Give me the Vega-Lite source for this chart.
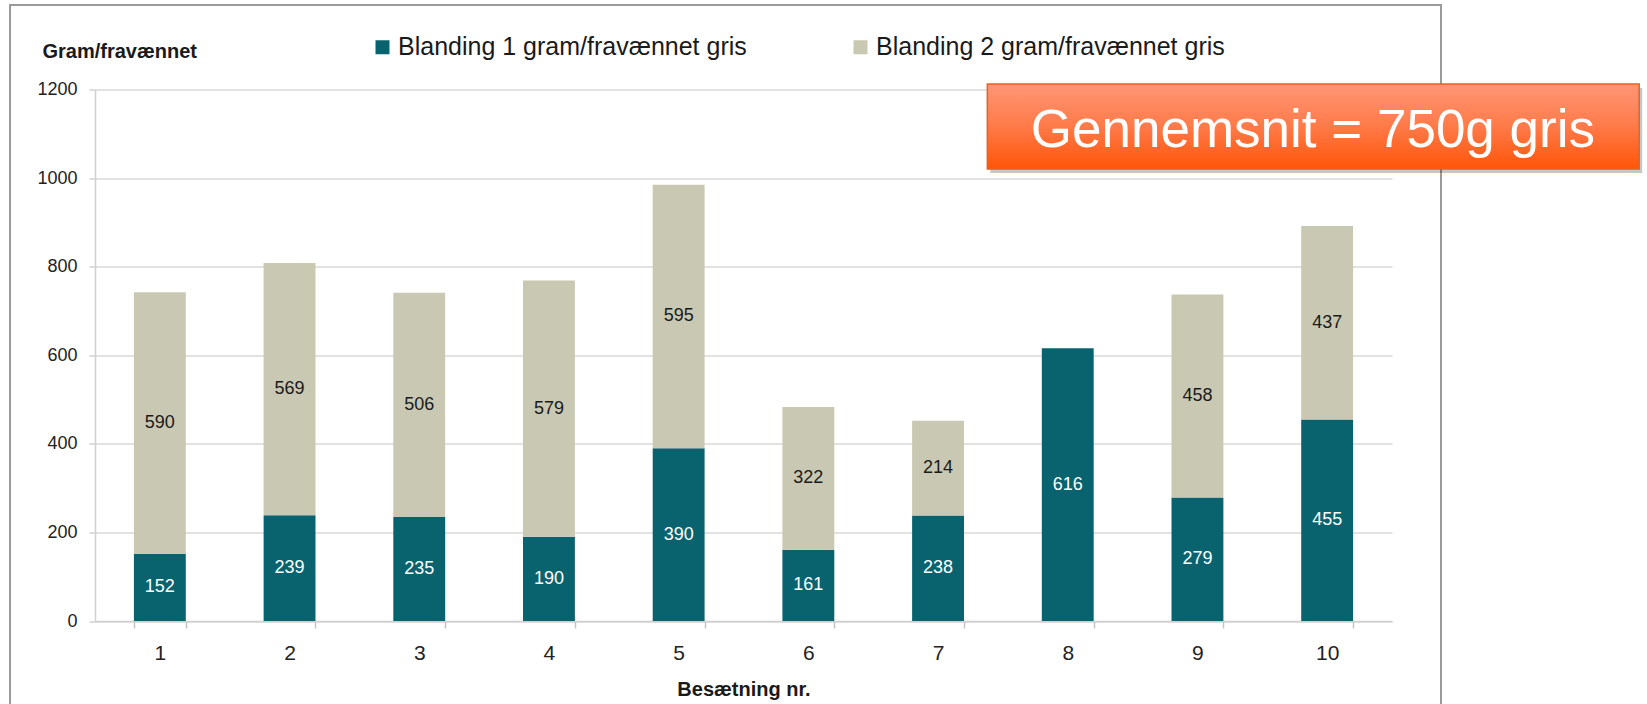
{
  "$schema": "https://vega.github.io/schema/vega-lite/v6.json",
  "width": 1297,
  "height": 531.5,
  "autosize": {"type": "none"},
  "padding": {"left": 95, "top": 89.5, "right": 255, "bottom": 83},
  "background": "white",
  "config": {"view": {"stroke": null}, "font": "Liberation Sans"},
  "data": {
    "values": [
      {"herd": 1, "series": "Blanding 1 gram/fravænnet gris", "value": 152},
      {"herd": 2, "series": "Blanding 1 gram/fravænnet gris", "value": 239},
      {"herd": 3, "series": "Blanding 1 gram/fravænnet gris", "value": 235},
      {"herd": 4, "series": "Blanding 1 gram/fravænnet gris", "value": 190},
      {"herd": 5, "series": "Blanding 1 gram/fravænnet gris", "value": 390},
      {"herd": 6, "series": "Blanding 1 gram/fravænnet gris", "value": 161},
      {"herd": 7, "series": "Blanding 1 gram/fravænnet gris", "value": 238},
      {"herd": 8, "series": "Blanding 1 gram/fravænnet gris", "value": 616},
      {"herd": 9, "series": "Blanding 1 gram/fravænnet gris", "value": 279},
      {"herd": 10, "series": "Blanding 1 gram/fravænnet gris", "value": 455},
      {"herd": 1, "series": "Blanding 2 gram/fravænnet gris", "value": 590},
      {"herd": 2, "series": "Blanding 2 gram/fravænnet gris", "value": 569},
      {"herd": 3, "series": "Blanding 2 gram/fravænnet gris", "value": 506},
      {"herd": 4, "series": "Blanding 2 gram/fravænnet gris", "value": 579},
      {"herd": 5, "series": "Blanding 2 gram/fravænnet gris", "value": 595},
      {"herd": 6, "series": "Blanding 2 gram/fravænnet gris", "value": 322},
      {"herd": 7, "series": "Blanding 2 gram/fravænnet gris", "value": 214},
      {"herd": 9, "series": "Blanding 2 gram/fravænnet gris", "value": 458},
      {"herd": 10, "series": "Blanding 2 gram/fravænnet gris", "value": 437}
    ]
  },
  "layer": [
    {
      "layer": [
        {
          "mark": {"type": "bar"},
          "encoding": {
            "x": {
              "field": "herd",
              "type": "ordinal",
              "scale": {"paddingInner": 0.6, "paddingOuter": 0.3},
              "axis": {
                "title": "Besætning nr.",
                "labelAngle": 0,
                "labelFontSize": 21,
                "labelColor": "#222222",
                "labelBaseline": "alphabetic",
                "labelPadding": 31,
                "tickBand": "extent",
                "tickSize": 7,
                "tickColor": "#c4c4c4",
                "tickWidth": 1.5,
                "domainColor": "#d0d0d0",
                "domainWidth": 1.5,
                "grid": false,
                "titleFontSize": 20,
                "titleFontWeight": "bold",
                "titleColor": "#1a1a1a",
                "titleBaseline": "alphabetic",
                "titleY": 74
              }
            },
            "y": {
              "field": "value",
              "type": "quantitative",
              "stack": "zero",
              "scale": {"domain": [0, 1200], "nice": false},
              "axis": {
                "title": "Gram/fravænnet",
                "values": [0, 200, 400, 600, 800, 1000, 1200],
                "format": "d",
                "labelFontSize": 18,
                "labelColor": "#222222",
                "labelPadding": 12,
                "tickSize": 6,
                "tickColor": "#d0d0d0",
                "tickWidth": 1.5,
                "domainColor": "#d0d0d0",
                "domainWidth": 1.5,
                "gridColor": "#d9d9d9",
                "gridWidth": 1.5,
                "titleAngle": 0,
                "titleAlign": "left",
                "titleBaseline": "alphabetic",
                "titleX": -53,
                "titleY": -32,
                "titleFontSize": 20,
                "titleFontWeight": "bold",
                "titleColor": "#1a1a1a"
              }
            },
            "order": {"field": "series", "type": "ordinal", "sort": "ascending"},
            "color": {
              "field": "series",
              "type": "nominal",
              "scale": {
                "domain": ["Blanding 1 gram/fravænnet gris", "Blanding 2 gram/fravænnet gris"],
                "range": ["#08636f", "#c9c8b2"]
              },
              "legend": {
                "title": null,
                "orient": "none",
                "legendX": 275,
                "legendY": -55,
                "direction": "horizontal",
                "symbolType": "square",
                "symbolSize": 196,
                "symbolStrokeWidth": 0,
                "labelFontSize": 25,
                "labelColor": "#1a1a1a",
                "labelOffset": 3,
                "columnPadding": 101,
                "padding": 0,
                "labelLimit": 600
              }
            }
          }
        },
        {
          "mark": {"type": "text", "fontSize": 18, "baseline": "middle", "align": "center"},
          "encoding": {
            "x": {"field": "herd", "type": "ordinal"},
            "y": {"field": "value", "type": "quantitative", "stack": "zero", "bandPosition": 0.5},
            "detail": {"field": "series"},
            "order": {"field": "series", "type": "ordinal", "sort": "ascending"},
            "text": {"field": "value", "type": "quantitative"},
            "color": {
              "condition": {"test": "datum.series === 'Blanding 1 gram/fravænnet gris'", "value": "#ffffff"},
              "value": "#1a1a1a"
            }
          }
        }
      ]
    },
    {
      "data": {"values": [{"note": "Gennemsnit = 750g gris"}]},
      "layer": [
        {
          "mark": {"type": "rect", "filled": false, "stroke": "#9a9a9a", "strokeWidth": 2},
          "encoding": {
            "x": {"datum": -0.655, "type": "quantitative", "scale": {"domain": [0, 10], "nice": false, "zero": false}, "axis": null},
            "x2": {"datum": 10.378},
            "y": {"datum": 1390.8, "type": "quantitative", "scale": {"domain": [0, 1200], "nice": false, "zero": false}, "axis": null},
            "y2": {"datum": -300}
          }
        },
        {
          "mark": {"type": "rect", "fill": "#000000", "opacity": 0.22, "xOffset": 3, "x2Offset": 3, "yOffset": 4, "y2Offset": 4},
          "encoding": {
            "x": {"datum": 6.88, "type": "quantitative"},
            "x2": {"datum": 11.906},
            "y": {"datum": 1212.4, "type": "quantitative"},
            "y2": {"datum": 1020.5}
          }
        },
        {
          "mark": {
            "type": "rect",
            "stroke": "#e8621e",
            "strokeWidth": 1.5,
            "fill": {
              "gradient": "linear",
              "x1": 0, "y1": 0, "x2": 0, "y2": 1,
              "stops": [
                {"offset": 0, "color": "#ff9677"},
                {"offset": 0.5, "color": "#ff7a48"},
                {"offset": 1, "color": "#ff5508"}
              ]
            }
          },
          "encoding": {
            "x": {"datum": 6.88, "type": "quantitative"},
            "x2": {"datum": 11.906},
            "y": {"datum": 1212.4, "type": "quantitative"},
            "y2": {"datum": 1020.5}
          }
        },
        {
          "mark": {"type": "text", "fontSize": 53, "color": "#ffffff", "align": "center", "baseline": "alphabetic"},
          "encoding": {
            "x": {"datum": 9.39, "type": "quantitative"},
            "y": {"datum": 1070, "type": "quantitative"},
            "text": {"field": "note"}
          }
        }
      ]
    }
  ],
  "resolve": {"scale": {"x": "independent", "y": "independent"}}
}
